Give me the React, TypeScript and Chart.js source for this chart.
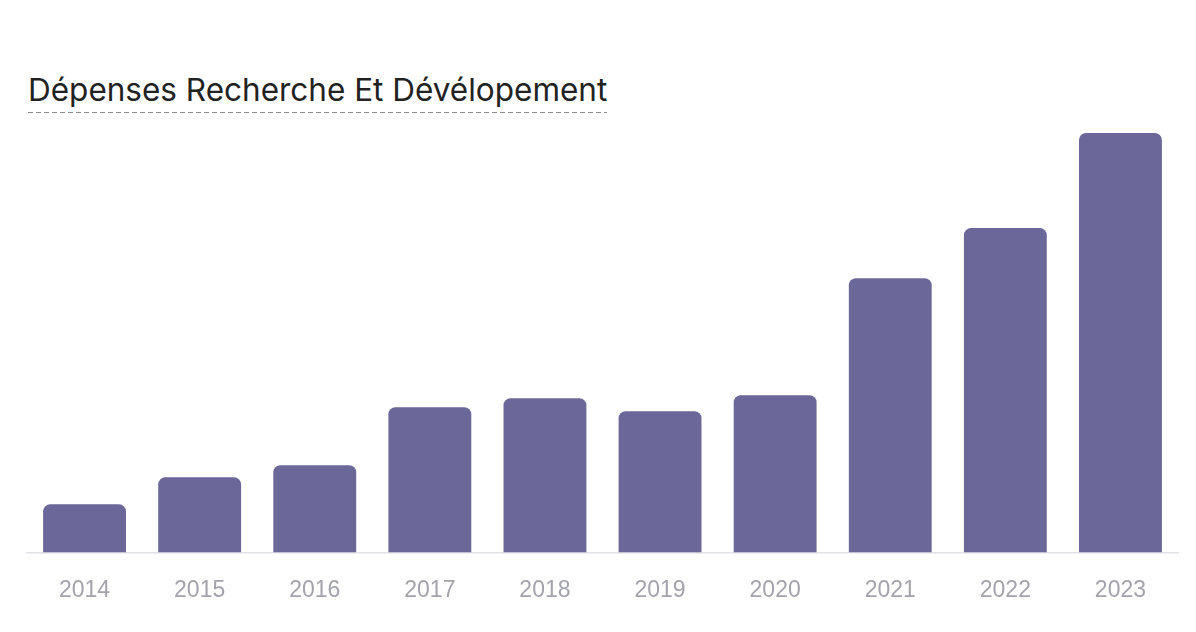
import { useEffect, useRef } from "react";
import { Chart, registerables, type ChartConfiguration } from "chart.js";

Chart.register(...registerables);

const YEARS = ["2014", "2015", "2016", "2017", "2018", "2019", "2020", "2021", "2022", "2023"];
// R&D spending, relative units
const SPENDING = [48, 75, 87, 145, 154, 141, 157, 274, 324, 419];

const BAR = "#6b6799";
const TICK = "#a3a3ab";
const AXIS = "#e1e1e6";

export default function App() {
  const canvasRef = useRef<HTMLCanvasElement>(null);
  const chartRef = useRef<Chart | null>(null);

  useEffect(() => {
    document.body.style.margin = "0";
    if (!canvasRef.current) return;
    chartRef.current?.destroy();

    const cfg: ChartConfiguration<"bar"> = {
      type: "bar",
      data: {
        labels: YEARS,
        datasets: [
          {
            data: SPENDING,
            backgroundColor: BAR,
            borderRadius: { topLeft: 7, topRight: 7, bottomLeft: 0, bottomRight: 0 },
            borderSkipped: false,
            categoryPercentage: 1,
            barPercentage: 0.72,
          },
        ],
      },
      options: {
        responsive: true,
        maintainAspectRatio: false,
        animation: false,
        layout: { padding: { left: 27, right: 18, top: 0, bottom: 4 } },
        plugins: { legend: { display: false }, tooltip: { enabled: false } },
        scales: {
          x: {
            grid: { display: false, drawTicks: false },
            border: { display: true, color: AXIS, width: 1.5 },
            ticks: {
              color: TICK,
              padding: 24,
              font: { family: "'Liberation Sans', Arial, sans-serif", size: 23 },
            },
          },
          y: {
            display: false,
            min: 0,
            max: 432,
          },
        },
      },
    };

    chartRef.current = new Chart(canvasRef.current, cfg);
    return () => {
      chartRef.current?.destroy();
    };
  }, []);

  return (
    <div style={{ position: "relative", width: 1196, height: 632, background: "#fff" }}>
      <div
        style={{
          position: "absolute",
          left: 28,
          top: 70,
          fontFamily: "Inter, 'Noto Sans', sans-serif",
          fontSize: 31.5,
          color: "#222",
          lineHeight: "39px",
          paddingBottom: 4,
          backgroundImage: "repeating-linear-gradient(to right, #8a8a8a 0 5px, transparent 5px 8px)",
          backgroundSize: "100% 1.5px",
          backgroundRepeat: "no-repeat",
          backgroundPosition: "bottom left",
          whiteSpace: "nowrap",
        }}
      >
        Dépenses Recherche Et Dévélopement
      </div>
      <div style={{ position: "absolute", left: 0, top: 120, width: 1196, height: 512 }}>
        <canvas ref={canvasRef} />
      </div>
    </div>
  );
}
